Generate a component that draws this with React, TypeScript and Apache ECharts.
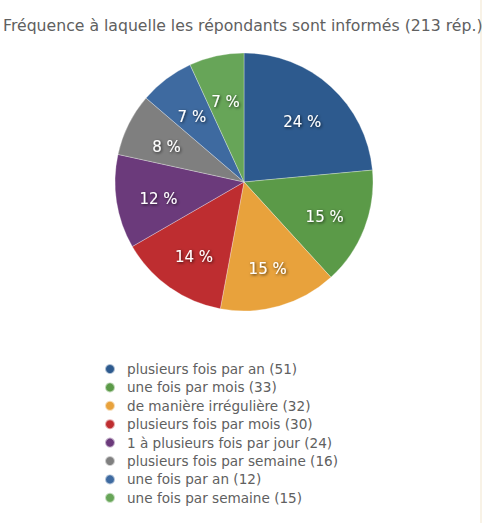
import React, { useEffect, useRef } from "react";
import * as echarts from "echarts";

const title = "Fréquence à laquelle les répondants sont informés (213 rép.)";
const categories = [
  "plusieurs fois par an",
  "une fois par mois",
  "de manière irrégulière",
  "plusieurs fois par mois",
  "1 à plusieurs fois par jour",
  "plusieurs fois par semaine",
  "une fois par an",
  "une fois par semaine",
];
const counts = [51, 33, 32, 30, 24, 16, 12, 15];
const percents = [24, 15, 15, 14, 12, 8, 7, 7];
const colors = ["#2d5a8e", "#5b9a48", "#e8a23c", "#be2d30", "#6b3a7b", "#7f7f7f", "#3e6aa0", "#67a558"];

const FONT = "'DejaVu Sans', sans-serif";

export default function App() {
  const ref = useRef<HTMLDivElement>(null);
  useEffect(() => {
    if (!ref.current) return;
    const chart = echarts.init(ref.current, null, { renderer: "svg" });
    const names = categories.map((c, i) => `${c} (${counts[i]})`);
    const data = names.map((n, i) => ({ name: n, value: percents[i] }));
    chart.setOption({
      animation: false,
      backgroundColor: "#ffffff",
      color: colors,
      title: {
        text: title,
        left: 3,
        top: 17,
        padding: 0,
        textStyle: { fontFamily: FONT, fontSize: 15.7, fontWeight: "normal", color: "#606060" },
      },
      legend: {
        orient: "vertical",
        left: 99,
        top: 357,
        icon: "circle",
        itemWidth: 24,
        itemHeight: 10,
        itemGap: 4.4,
        data: names,
        textStyle: { fontFamily: FONT, fontSize: 13.6, color: "#606060", lineHeight: 14 },
      },
      graphic: [
        { type: "rect", shape: { x: 480, y: 0, width: 2, height: 523 }, style: { fill: "#f8f2e6" }, silent: true },
      ],
      series: [
        {
          type: "pie",
          center: [244, 182],
          radius: 129,
          startAngle: 90,
          clockwise: true,
          data,
          label: { show: false },
          labelLine: { show: false },
          itemStyle: { borderColor: "rgba(255,255,255,0.6)", borderWidth: 0.5 },
          emphasis: { disabled: true },
        },
        {
          type: "pie",
          center: [244, 186],
          radius: [38, 129],
          startAngle: 90,
          clockwise: true,
          silent: true,
          legendHoverLink: false,
          data,
          itemStyle: { color: "rgba(0,0,0,0)" },
          label: {
            show: true,
            position: "inside",
            formatter: "{c} %",
            fontFamily: FONT,
            fontSize: 15,
            color: "#ffffff",
            textShadowColor: "rgba(0,0,0,0.7)",
            textShadowBlur: 3,
            textShadowOffsetX: 1,
            textShadowOffsetY: 1,
          },
          labelLine: { show: false },
          emphasis: { disabled: true },
        },
      ],
    });
    return () => chart.dispose();
  }, []);
  return (
    <div
      ref={ref}
      style={{ position: "fixed", left: 0, top: 0, width: 500, height: 523 }}
    />
  );
}
